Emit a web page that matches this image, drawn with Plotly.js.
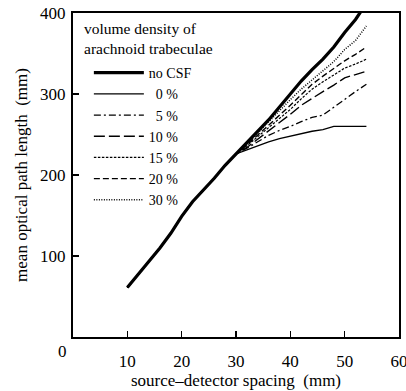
<!DOCTYPE html>
<html>
<head>
<meta charset="utf-8">
<script src="https://cdn.plot.ly/plotly-3.0.1.min.js"></script>
<style>html,body{margin:0;padding:0;background:#fff;}#chart{width:406px;height:391px;}</style>
</head>
<body>
<div id="chart"></div>
<script>
// source–detector spacing (mm)
const spacing = [10,12,14,16,18,20,22,24,26,28,30,32,34,36,38,40,42,44,46,48,50,52,54];
const common = [61,77,94,110,128,149,167,181,196,212,226];
const noCSF = common.concat([240,254,268,284,300,316,330,343,358,376,392,412]);
const d0    = common.concat([231,236,241,245,248,251,254,256,260,260,260,260]);
const d5    = common.concat([233,241,249,255,260,266,271,274,284,294,303,312]);
const d10   = common.concat([234,244,255,265,275,286,295,303,311,320,324,328]);
const d15   = common.concat([236,247,259,270,281,294,306,315,323,332,337,343]);
const d20   = common.concat([237,249,262,274,286,299,312,322,332,341,349,358]);
const d30   = common.concat([238,252,266,280,293,306,317,328,340,355,366,384]);
const seriesNames = ['no CSF','\u00a0\u00a00 %','\u00a0\u00a05 %','10 %','15 %','20 %','30 %'];
const seriesData = [noCSF,d0,d5,d10,d15,d20,d30];
const legendTitle = 'volume density of<br>arachnoid trabeculae';
const yTicks = [100,200,300,400];
const xTicks = [10,20,30,40,50,60];

const styles = [
  {width:3.2, dash:'solid'},
  {width:1.3, dash:'solid'},
  {width:1.3, dash:'7px,3px,2px,3px'},
  {width:1.4, dash:'11px,4px'},
  {width:1.2, dash:'2.5px,1.5px'},
  {width:1.4, dash:'6px,3px'},
  {width:1.5, dash:'1px,1.5px'}
];
const traces = seriesData.map((y,i)=>({
  x: spacing, y: y, name: seriesNames[i], type:'scatter', mode:'lines',
  line:{color:'#000', width:styles[i].width, dash:styles[i].dash}
}));
const FAM = 'Liberation Serif, Times New Roman, DejaVu Serif, serif';
const f = (s)=>({family:FAM, size:s, color:'#000'});
const layout = {
  width:406, height:391,
  margin:{l:73, r:7, t:13, b:54},
  paper_bgcolor:'#fff', plot_bgcolor:'#fff',
  font: f(16),
  showlegend:true,
  legend:{
    x:0.018, y:0.864, xanchor:'left', yanchor:'top',
    bgcolor:'rgba(0,0,0,0)', borderwidth:0,
    font: f(14), indentation:10,
    itemwidth:50, tracegroupgap:0
  },
  xaxis:{
    range:[0,60], tickvals:xTicks, ticktext:xTicks.map(String),
    ticks:'inside', ticklen:6, tickwidth:1.3, tickcolor:'#000',
    showline:true, linecolor:'#000', linewidth:2, mirror:true,
    showgrid:false, zeroline:false,
    tickfont:f(17), ticklabeloverflow:'allow',
    ticklabelstandoff:8,
    title:{text:'source\u2013detector spacing  (mm)', font:f(17), standoff:2}
  },
  yaxis:{
    range:[0,400], tickvals:yTicks, ticktext:yTicks.map(String),
    ticks:'inside', ticklen:6, tickwidth:1.3, tickcolor:'#000',
    showline:true, linecolor:'#000', linewidth:2, mirror:true,
    showgrid:false, zeroline:false,
    tickfont:f(17),
    ticklabelstandoff:2,
    title:{text:'mean optical path length  (mm)', font:f(17), standoff:8}
  },
  annotations:[
    {text:'0', xref:'paper', yref:'paper', x:0, y:0, xanchor:'right', yanchor:'top',
     xshift:-4, yshift:-3, showarrow:false, font:f(17)},
    {text:legendTitle, xref:'paper', yref:'paper', x:0.0307, y:0.9228,
     xanchor:'left', yanchor:'middle', align:'left', borderpad:0,
     showarrow:false, font:f(15.5)}
  ]
};
Plotly.newPlot('chart', traces, layout, {displayModeBar:false, staticPlot:true});
</script>
</body>
</html>
